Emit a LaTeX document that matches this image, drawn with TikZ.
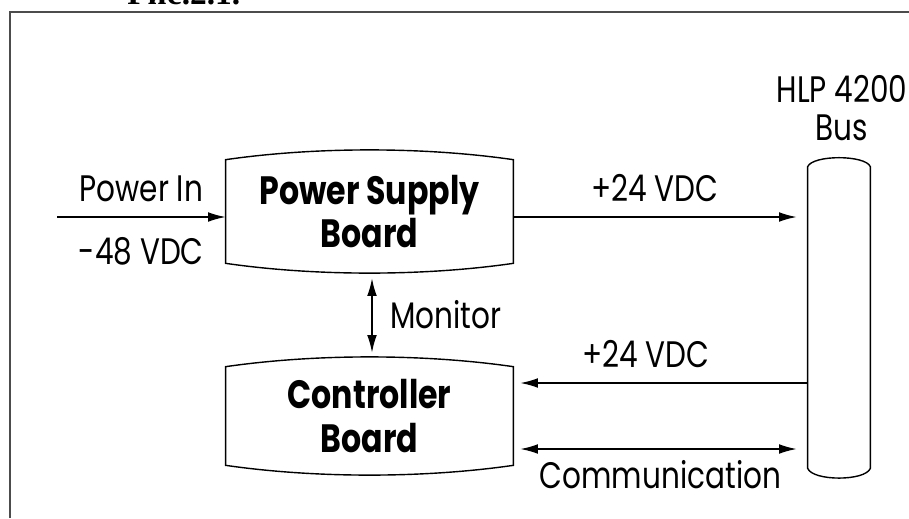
\documentclass[tikz,border=0pt]{standalone}
\usepackage{fontspec}
\newfontfamily\futura{Poppins}[FakeStretch=0.8]
\newfontfamily\titlefont{Liberation Serif}
\usetikzlibrary{arrows.meta}

\begin{document}
\begin{tikzpicture}[x=0.02cm, y=-0.02cm,
    >={Latex[length=10pt,width=5.5pt]},
    board/.style={minimum width=5.74cm, inner sep=0pt, align=center,
        font=\futura\bfseries\fontsize{22.5}{25}\selectfont},
    lbl/.style={inner sep=0pt, font=\futura\fontsize{21}{24}\selectfont},
    wire/.style={line width=0.8pt}]
    \useasboundingbox (0,0) rectangle (909,518);
    \fill[white] (0,0) rectangle (909,518);

    % frame and caption
    \draw[gray!60!black, line width=1.1pt] (10,518) -- (10,12) -- (909,12);
    \node[anchor=base west, inner sep=0pt, font=\titlefont\bfseries\fontsize{19}{19}\selectfont] (fig) at (127,4) {Рис.2.1.};

    \node[board, minimum height=2.06cm] (psb) at (369.5,211.5) {Power Supply\\Board};
    \node[board, minimum height=1.96cm] (ctrl) at (369.5,416) {Controller\\Board};
    \node[minimum width=1.24cm, minimum height=6.02cm, inner sep=0pt] (bus) at (839,317.5) {};
    \node[lbl, align=center, font=\futura\fontsize{21}{22}\selectfont] (hlp) at (842,108) {HLP 4200\\Bus};

    \foreach \b in {psb,ctrl}
        \draw[wire] (\b.south west) -- (\b.north west)
            .. controls +(90,-13) and +(-90,-13) .. (\b.north east) -- (\b.south east)
            .. controls +(-90,13) and +(90,13) .. (\b.south west) -- cycle;
    \draw[wire] (bus.south west) -- (bus.north west)
        .. controls +(5,-12) and +(-5,-12) .. (bus.north east) -- (bus.south east)
        .. controls +(-5,13) and +(5,13) .. (bus.south west) -- cycle;

    \coordinate (pin) at (57,217);
    \coordinate (tap) at (0,383);
    \coordinate (com) at (0,449);

    \draw[wire, ->] (pin) -- (pin -| psb.west)
        node[lbl, midway, above=8.5pt] {Power In}
        node[lbl, midway, below=11pt] {-48 VDC};
    \draw[wire, ->, shorten >=0.22cm] (pin -| psb.east) -- (pin -| bus.west)
        node[lbl, pos=0.48, above=8.5pt] {+24 VDC};
    \draw[wire, ->, shorten >=0.14cm] (tap -| bus.west) -- (tap -| ctrl.east)
        node[lbl, pos=0.55, above=8.5pt] {+24 VDC};
    \draw[wire, <->, shorten <=0.14cm, shorten >=0.22cm] (com -| ctrl.east) -- (com -| bus.west)
        node[lbl, midway, below=6pt] {Communication};
    \draw[wire, <->, shorten <=0.3cm, shorten >=0.28cm] ([xshift=0.05cm]psb.south) -- ([xshift=0.05cm]ctrl.north)
        node[lbl, midway, right=10pt] {Monitor};
\end{tikzpicture}
\end{document}
